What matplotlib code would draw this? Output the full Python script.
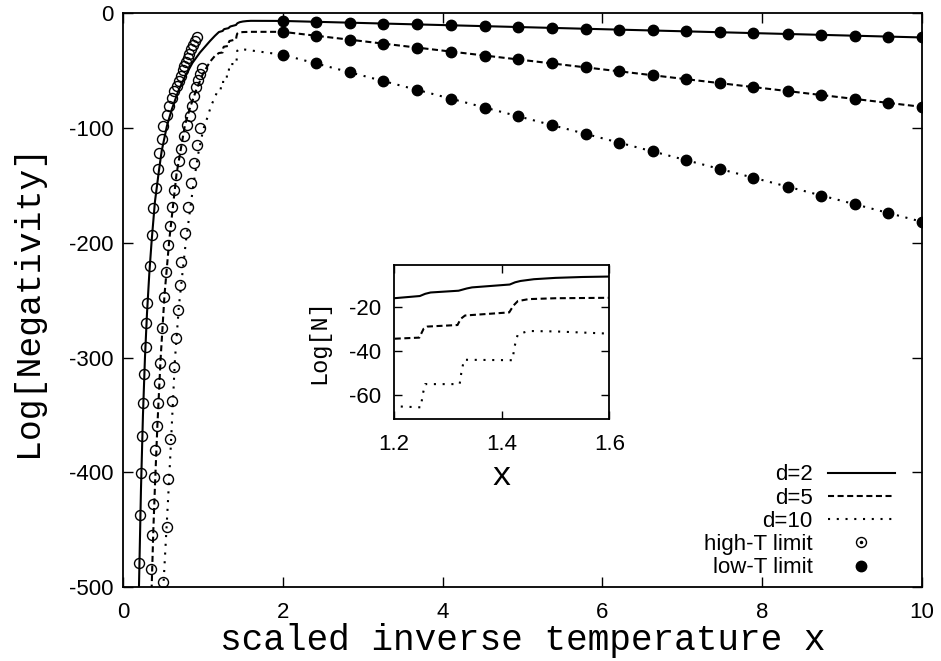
import matplotlib
matplotlib.use("Agg")
import matplotlib.pyplot as plt
from matplotlib.lines import Line2D
from matplotlib.legend_handler import HandlerTuple

plt.rcParams['font.family'] = ['Liberation Sans', 'DejaVu Sans']
plt.rcParams['axes.unicode_minus'] = False
MONO = ['Liberation Mono', 'DejaVu Sans Mono']

# full curves
x_d2 = [0.19, 0.20, 0.225, 0.25, 0.275, 0.30, 0.33, 0.36, 0.40, 0.45, 0.484, 0.55, 0.609,
        0.69, 0.776, 0.87, 0.964, 1.089, 1.15, 1.20, 1.248, 1.258, 1.268, 1.32, 1.335,
        1.345, 1.415, 1.425, 1.435, 1.46, 1.50, 1.55, 1.60, 2.00, 10.0]
y_d2 = [-542, -500, -415, -350, -300, -262, -226, -197, -164, -137, -120, -98, -84,
        -68, -55, -43, -34, -24, -19.5, -16.2, -15.2, -14.2, -13.6, -12.8, -11.8,
        -11.3, -10.0, -9.0, -8.4, -7.6, -7.0, -6.6, -6.4, -6.5, -20.9]

x_d5 = [0.35, 0.359, 0.38, 0.40, 0.43, 0.47, 0.52, 0.58, 0.67, 0.776, 0.84, 0.92, 1.005,
        1.09, 1.15, 1.20, 1.247, 1.255, 1.262, 1.318, 1.324, 1.332, 1.414, 1.422, 1.43,
        1.45, 1.50, 1.60, 2.00, 10.0]
y_d5 = [-545, -500, -450, -412, -360, -302, -245, -197, -140, -97, -82, -66, -52,
        -42, -37, -34.5, -34, -30, -29, -28.3, -25.5, -24, -22.6, -19.5, -17.5,
        -16.6, -16.2, -16.0, -16.0, -81.4]

x_d10 = [0.49, 0.505, 0.567, 0.60, 0.65, 0.70, 0.785, 0.88, 0.94, 1.005, 1.06, 1.10, 1.15,
         1.20, 1.25, 1.253, 1.258, 1.322, 1.325, 1.33, 1.42, 1.424, 1.43, 1.45, 1.50,
         1.60, 2.00, 10.0]
y_d10 = [-548, -500, -420, -375, -302, -255, -200, -150, -123, -101, -90, -81, -73,
         -65, -65.5, -60, -55, -55, -50, -44, -44.2, -38, -32.5, -31, -31.2,
         -32.2, -36, -181.6]

# high-T limit (open circles)
xh_d2 = [0.203, 0.215, 0.226, 0.236, 0.246, 0.263, 0.283, 0.294, 0.303, 0.335, 0.357,
         0.379, 0.409, 0.437, 0.456, 0.482, 0.506, 0.555, 0.580, 0.609, 0.638, 0.672,
         0.705, 0.726, 0.747, 0.768, 0.789, 0.810, 0.830, 0.851, 0.872, 0.897, 0.922]
yh_d2 = [-479, -437, -401, -368, -340, -314, -291, -270, -252, -220, -193,
         -170, -152, -135.5, -121.6, -109, -98.3, -88.1, -80.3, -73.6, -67.8, -62.8,
         -58.5, -54.1, -49.7, -46.0, -42.5, -38.7, -34.9, -31.4, -27.9, -24.2, -20.3]

xh_d5 = [0.985, 0.964, 0.942, 0.914, 0.889, 0.860, 0.835, 0.800, 0.760, 0.730, 0.700,
         0.660, 0.635, 0.612, 0.590, 0.567, 0.537, 0.508, 0.484, 0.457, 0.451, 0.442,
         0.421, 0.400, 0.382, 0.372, 0.364, 0.352]
yh_d5 = [-47.4, -52.4, -57.6, -64, -72.2, -80.9, -89, -97, -107, -118, -129,
         -140.5, -153.6, -168.7, -185, -202, -225, -247.5, -274.5, -305, -322, -340,
         -359.5, -380.5, -404, -428, -455, -484]

xh_d10 = [0.964, 0.922, 0.885, 0.845, 0.815, 0.776, 0.730, 0.709, 0.688, 0.663, 0.638,
          0.609, 0.584, 0.561, 0.545, 0.505]
yh_d10 = [-100, -114.3, -130.3, -147.5, -168.5, -191, -217, -237, -258.5, -282.5, -308.5,
          -338, -371, -406, -448, -496]

# low-T limit (filled circles)
x_low = [2.00, 2.42, 2.84, 3.26, 3.68, 4.11, 4.53, 4.95, 5.37, 5.79,
         6.21, 6.63, 7.05, 7.47, 7.89, 8.32, 8.74, 9.16, 9.58, 10.00]
yl_d2 = [-6.5, -7.3, -8.0, -8.8, -9.5, -10.3, -11.0, -11.8, -12.6, -13.3,
         -14.1, -14.8, -15.6, -16.3, -17.1, -17.9, -18.6, -19.4, -20.1, -20.9]
yl_d5 = [-16.0, -19.4, -22.9, -26.3, -29.7, -33.3, -36.7, -40.1, -43.6, -47.0,
         -50.4, -53.9, -57.3, -60.7, -64.2, -67.7, -71.1, -74.5, -78.0, -81.4]
yl_d10 = [-36.0, -43.6, -51.3, -58.9, -66.6, -74.4, -82.0, -89.7, -97.3, -105.0,
          -112.6, -120.3, -127.9, -135.6, -143.2, -151.0, -158.7, -166.3, -174.0, -181.6]

labels = ['d=2', 'd=5', 'd=10']
x_ticks = [0, 2, 4, 6, 8, 10]
y_ticks = [0, -100, -200, -300, -400, -500]
inset_xticks = [1.2, 1.4, 1.6]
inset_yticks = [-20, -40, -60]

LW = 1.5
styles = ['-', (0, (2.9, 1.7)), (0, (1.0, 3.2))]

fig = plt.figure(figsize=(9.41, 6.61), dpi=100)
ax = fig.add_axes([0.1307, 0.112, 0.8491, 0.8676])

curves = [(x_d2, y_d2), (x_d5, y_d5), (x_d10, y_d10)]
handles = []
for (xs, ys), ls, lab in zip(curves, styles, labels):
    h, = ax.plot(xs, ys, color='black', lw=LW, linestyle=ls, label=lab, zorder=2)
    handles.append(h)

for xs, ys in [(xh_d2, yh_d2), (xh_d5, yh_d5), (xh_d10, yh_d10)]:
    ax.plot(xs, ys, linestyle='none', marker='o', ms=7.2, mfc='none', mec='black',
            mew=1.0, zorder=3)
for ys in [yl_d2, yl_d5, yl_d10]:
    ax.plot(x_low, ys, linestyle='none', marker='o', ms=7.5, color='black', zorder=3)

ax.set_xlim(0, 10)
ax.set_ylim(-500, 0)
ax.set_xticks(x_ticks)
ax.set_yticks(y_ticks)
ax.tick_params(direction='in', top=True, right=True, length=7, width=1,
               labelsize=16)
ax.tick_params(axis='x', pad=11)
ax.tick_params(axis='y', pad=7)
for sp in ax.spines.values():
    sp.set_linewidth(1.3)
ax.set_xlabel('scaled inverse temperature x', fontsize=26, family=MONO, labelpad=0)
ax.set_ylabel('Log[Negativity]', fontsize=25, family=MONO, labelpad=18)

# legend, gnuplot style: text right aligned, sample on the right
h_high = (Line2D([], [], ls='none', marker='o', ms=7.2, mfc='none', mec='black', mew=1.0),
          Line2D([], [], ls='none', marker='o', ms=1.5, color='black'))
h_low = Line2D([], [], ls='none', marker='o', ms=7.5, color='black')
ax.legend(handles + [h_high, h_low], labels + ['high-T limit', 'low-T limit'],
          loc='lower right', bbox_to_anchor=(0.966, 0.015), frameon=False,
          markerfirst=False, fontsize=16, handlelength=3.0, handletextpad=0.7,
          labelspacing=0.1, borderpad=0, borderaxespad=0,
          handler_map={tuple: HandlerTuple(ndivide=1)})

# inset
ins = fig.add_axes([0.4187, 0.366, 0.2288, 0.2337])
ins.set_facecolor('white')
for (xs, ys), ls in zip(curves, styles):
    ins.plot(xs, ys, color='black', lw=LW, linestyle=ls)
ins.set_xlim(1.2, 1.6)
ins.set_ylim(-70.8, -1)
ins.set_xticks(inset_xticks)
ins.set_yticks(inset_yticks)
ins.tick_params(direction='in', top=True, right=True, length=6, width=1,
                labelsize=16)
ins.tick_params(axis='x', pad=11)
ins.tick_params(axis='y', pad=9)
for sp in ins.spines.values():
    sp.set_linewidth(1.3)
ins.set_xlabel('x', fontsize=24, family=MONO, labelpad=4)
ins.set_ylabel('Log[N]', fontsize=17, family=MONO, labelpad=14)

fig.savefig('out.png', dpi=100)
